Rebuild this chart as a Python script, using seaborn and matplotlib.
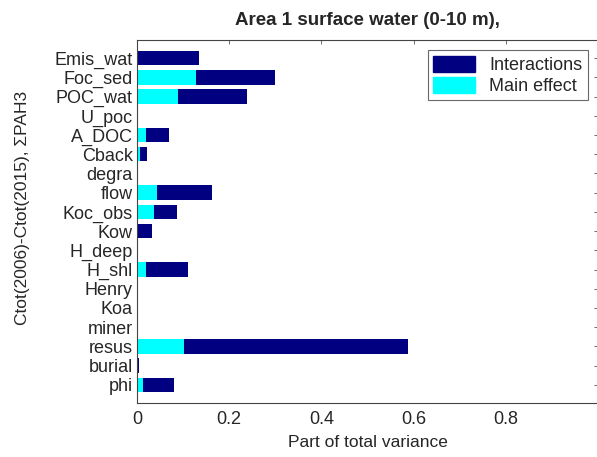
import matplotlib
matplotlib.use("Agg")
import matplotlib.pyplot as plt
from matplotlib.patches import Patch
import seaborn as sns
import pandas as pd

params = ["Emis_wat", "Foc_sed", "POC_wat", "U_poc", "A_DOC", "Cback", "degra",
          "flow", "Koc_obs", "Kow", "H_deep", "H_shl", "Henry", "Koa", "miner",
          "resus", "burial", "phi"]
total_effect = [0.134, 0.300, 0.238, 0.002, 0.069, 0.021, 0.002,
                0.162, 0.086, 0.033, 0.001, 0.110, 0.001, 0.001, 0.001,
                0.588, 0.004, 0.081]
main_effect = [0.001, 0.128, 0.089, 0.001, 0.019, 0.006, 0.001,
               0.043, 0.036, 0.003, 0.000, 0.019, 0.000, 0.000, 0.000,
               0.102, 0.001, 0.013]
x_ticks = [0, 0.2, 0.4, 0.6, 0.8]
x_tick_labels = ["0", "0.2", "0.4", "0.6", "0.8"]

df = pd.DataFrame({"param": params, "total": total_effect, "main": main_effect})

sns.set_style("white")
plt.rcParams["font.family"] = ["Liberation Sans", "DejaVu Sans"]

fig = plt.figure(figsize=(5.97, 4.57), dpi=100)
ax = fig.add_axes([137/597, 1-403/457, 461/597, 363/457])

sns.barplot(data=df, x="total", y="param", order=params, orient="h",
            color="#000080", saturation=1, width=0.75, ax=ax, linewidth=0)
sns.barplot(data=df, x="main", y="param", order=params, orient="h",
            color="#00FFFF", saturation=1, width=0.75, ax=ax, linewidth=0)

ax.set_xlim(0, 1)
ax.set_ylim(17.95, -0.95)
ax.set_xticks(x_ticks)
ax.set_xticklabels(x_tick_labels)
ax.tick_params(axis="both", direction="in", top=True, right=True, length=3,
               width=0.6, color="#555555", labelsize=13, pad=3)
ax.tick_params(axis="x", pad=6)
for s in ax.spines.values():
    s.set_color("#444444")
    s.set_linewidth(0.8)
    s.set_visible(True)

ax.set_xlabel("Part of total variance", fontsize=12.5, labelpad=5)
ax.set_ylabel("Ctot(2006)-Ctot(2015), \u03a3PAH3", fontsize=12.5)
ax.yaxis.set_label_coords(-0.232, 0.537)
ax.set_title("Area 1 surface water (0-10 m),", fontsize=13.5, fontweight="bold", pad=11)

handles = [Patch(facecolor="#000080", edgecolor="#000080", label="Interactions"),
           Patch(facecolor="#00FFFF", edgecolor="#00FFFF", label="Main effect")]
leg = ax.legend(handles=handles, loc="upper right", bbox_to_anchor=(0.978, 0.972),
                fontsize=13, frameon=True, fancybox=False, borderpad=0.3,
                labelspacing=0.15, handlelength=2.3, handleheight=1.0,
                handletextpad=0.8, borderaxespad=0)
leg.get_frame().set_edgecolor("#444444")
leg.get_frame().set_linewidth(0.8)

fig.savefig("out.png", dpi=100)
